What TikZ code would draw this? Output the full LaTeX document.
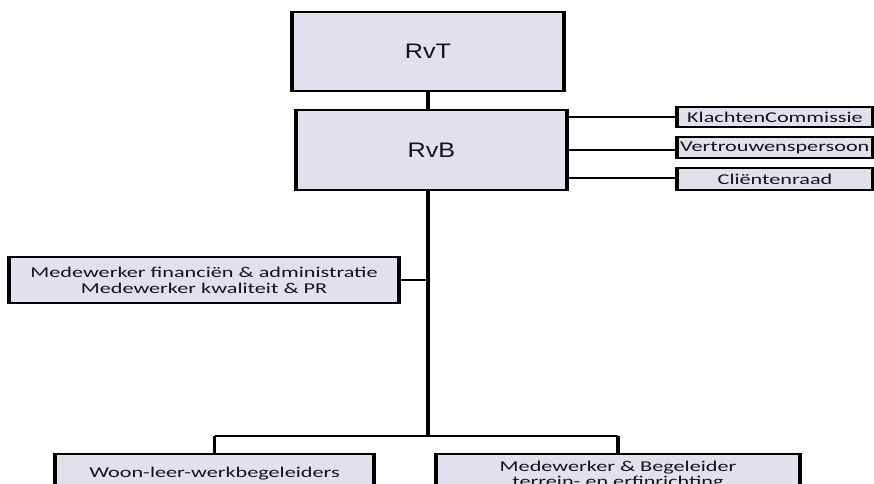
\documentclass[tikz,border=0pt]{standalone}
\usepackage{fontspec}
\setmainfont{Carlito}
\newfontfamily\wfont[FakeStretch=1.48]{Carlito}
\newfontfamily\bigfont[FakeStretch=1.2]{Liberation Sans}
\definecolor{boxfill}{HTML}{E4DFEC}
\definecolor{txt}{HTML}{141414}
\begin{document}
\begin{tikzpicture}[x=1pt,y=-1pt,
  orgbox/.style={draw=black,line width=2pt,fill=boxfill,inner sep=0pt,text=txt,align=center,
    append after command={\pgfextra{\draw[line width=3.5pt] (\tikzlastnode.north west)--(\tikzlastnode.south west) (\tikzlastnode.north east)--(\tikzlastnode.south east);}}},
  hline/.style={line width=2pt},
  vline/.style={line width=3.5pt}]
\useasboundingbox (0,0) rectangle (874,483);
\node[orgbox,minimum width=270pt,minimum height=79pt,font=\bigfont\fontsize{21}{25}\selectfont] (rvt) at (428,51.5) {RvT};
\node[orgbox,minimum width=269pt,minimum height=80pt,font=\bigfont\fontsize{21}{25}\selectfont] (rvb) at (431.5,150) {RvB};
\node[orgbox,minimum width=194pt,minimum height=20pt,font=\wfont\fontsize{15}{17}\selectfont] (kc) at (775,117) {KlachtenCommissie};
\node[orgbox,minimum width=194pt,minimum height=21pt,font=\wfont\fontsize{15}{17}\selectfont] (vp) at (775,147.5) {\makebox[194pt][l]{\hspace{2pt}Vertrouwenspersoon}};
\node[orgbox,minimum width=194pt,minimum height=22pt,font=\wfont\fontsize{15}{17}\selectfont] (cr) at (775,179) {Cliëntenraad};
\node[orgbox,minimum width=388pt,minimum height=46pt,font=\wfont\fontsize{15}{16}\selectfont] (mf) at (204,280) {Medewerker financiën \& administratie\\Medewerker kwaliteit \& PR};
\node[orgbox,minimum width=317pt,minimum height=50pt,font=\wfont\fontsize{15}{15}\selectfont,anchor=north] (wl) at (214.5,453) {\raisebox{14pt}{Woon-leer-werkbegeleiders}};
\node[orgbox,minimum width=362pt,minimum height=50pt,font=\wfont\fontsize{15}{13.5}\selectfont,anchor=north] (mb) at (618,453) {\raisebox{11pt}{\shortstack{Medewerker \& Begeleider\\[-1pt]terrein- en erfinrichting}}};
\coordinate (j1) at (428,280);
\coordinate (j2) at (428,436);
\draw[vline] (rvt.south -| j1) -- (rvb.north -| j1);
\draw[vline] (rvb.south -| j1) -- (j2);
\draw[hline] (mf.east) -- (j1);
\draw[hline] (rvb.east |- kc) -- (kc.west);
\draw[hline] (rvb.east |- 0,150) -- (vp.west |- 0,150);
\draw[hline] (rvb.east |- 0,178) -- (cr.west |- 0,178);
\draw[hline] (wl.north |- j2) -- (mb.north |- j2);
\draw[vline] (wl.north |- j2) -- (wl.north);
\draw[vline] (mb.north |- j2) -- (mb.north);
\end{tikzpicture}
\end{document}
